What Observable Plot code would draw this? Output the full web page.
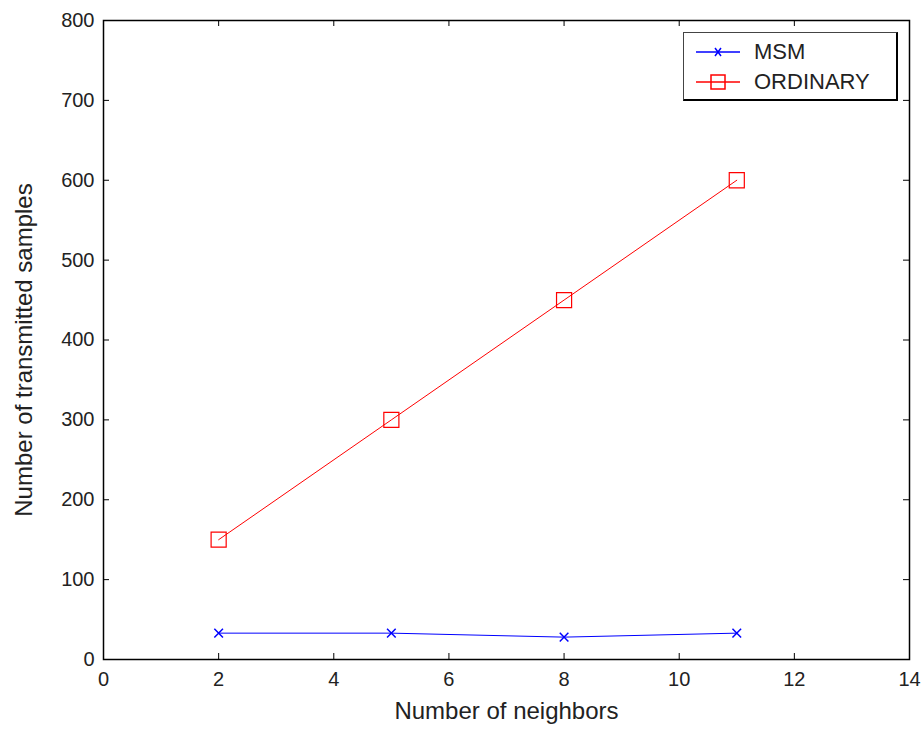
<!DOCTYPE html>
<html>
<head>
<meta charset="utf-8">
<script src="https://cdn.jsdelivr.net/npm/d3@7"></script>
<script src="https://cdn.jsdelivr.net/npm/@observablehq/plot@0.6"></script>
<style>
  body { margin: 0; background: #fff; }
  #wrap { position: relative; width: 923px; height: 729px; font-family: "Liberation Sans", Arial, sans-serif; }
  #legend { position: absolute; left: 683px; top: 32px; width: 215px; height: 69px; background: #fff;
    border: 1px solid #444; border-right: 2px solid #000; border-bottom: 2px solid #000; box-sizing: border-box; }
  .item { position: absolute; left: 12px; display: flex; align-items: center; font-size: 22px; color: #222; line-height: 22px; }
  .item svg { margin-right: 14px; }
</style>
</head>
<body>
<div id="wrap"></div>
<script>
const neighbors = [2, 5, 8, 11];
const msm = [33, 33, 28, 33];
const ordinary = [150, 300, 450, 600];
const xTicks = [0, 2, 4, 6, 8, 10, 12, 14];
const yTicks = [0, 100, 200, 300, 400, 500, 600, 700, 800];
const seriesNames = ["MSM", "ORDINARY"];
const seriesColors = ["#0000ff", "#ff0000"];
const xLabel = "Number of neighbors";
const yLabel = "Number of transmitted samples";

const data = [];
neighbors.forEach((n, i) => {
  data.push({x: n, y: msm[i], s: seriesNames[0]});
  data.push({x: n, y: ordinary[i], s: seriesNames[1]});
});

const W = 923, H = 729, mL = 103, mR = 14, mT = 20, mB = 70;
const fw = W - mL - mR, fh = H - mT - mB;
const tl = 6;

const chart = Plot.plot({
  width: W, height: H,
  marginLeft: mL, marginRight: mR, marginTop: mT, marginBottom: mB,
  style: {fontFamily: "'Liberation Sans', Arial, sans-serif", fontSize: "20px", color: "#222", background: "#fff"},
  x: {domain: [0, 14]},
  y: {domain: [0, 800]},
  marks: [
    Plot.axisX({ticks: xTicks, tickSize: 0, tickPadding: 12, label: null}),
    Plot.axisY({ticks: yTicks, tickSize: 0, tickPadding: 9, label: null}),
    Plot.text([xLabel], {text: d => d, frameAnchor: "bottom", dy: 52, lineAnchor: "middle", textAnchor: "middle", fontSize: 24, fill: "#222"}),
    Plot.text([yLabel], {text: d => d, frameAnchor: "left", rotate: -90, dx: -79, dy: 10, lineAnchor: "middle", textAnchor: "middle", fontSize: 24, fill: "#222"}),
    Plot.tickX(xTicks, {x: d => d, insetTop: fh - tl, stroke: "#000"}),
    Plot.tickX(xTicks, {x: d => d, insetBottom: fh - tl, stroke: "#000"}),
    Plot.tickY(yTicks, {y: d => d, insetRight: fw - tl, stroke: "#000"}),
    Plot.tickY(yTicks, {y: d => d, insetLeft: fw - tl, stroke: "#000"}),
    Plot.frame({stroke: "#000", strokeWidth: 1.5}),
    Plot.line(data, {x: "x", y: "y", z: "s", stroke: d => d.s, strokeWidth: 1}),
    Plot.dot(data.filter(d => d.s === "MSM"), {x: "x", y: "y", symbol: "times", r: 4, stroke: seriesColors[0], strokeWidth: 1.5}),
    Plot.dot(data.filter(d => d.s === "ORDINARY"), {x: "x", y: "y", symbol: "square", r: 8.5, stroke: seriesColors[1], fill: "none", strokeWidth: 1.2})
  ],
  color: {domain: seriesNames, range: seriesColors}
});

const wrap = document.getElementById("wrap");
wrap.appendChild(chart);

const legend = document.createElement("div");
legend.id = "legend";
legend.innerHTML = `
  <div class="item" style="top:8px">
    <svg width="44" height="16"><line x1="0" y1="8" x2="44" y2="8" stroke="${seriesColors[0]}" stroke-width="1.5"/>
    <path d="M19,4 L25,12 M25,4 L19,12" stroke="${seriesColors[0]}" stroke-width="1.5"/></svg>${seriesNames[0]}</div>
  <div class="item" style="top:38px">
    <svg width="44" height="16"><line x1="0" y1="8" x2="44" y2="8" stroke="${seriesColors[1]}" stroke-width="1.5"/>
    <rect x="15" y="1" width="14" height="14" fill="none" stroke="${seriesColors[1]}" stroke-width="1.5"/></svg>${seriesNames[1]}</div>`;
wrap.appendChild(legend);
</script>
</body>
</html>
